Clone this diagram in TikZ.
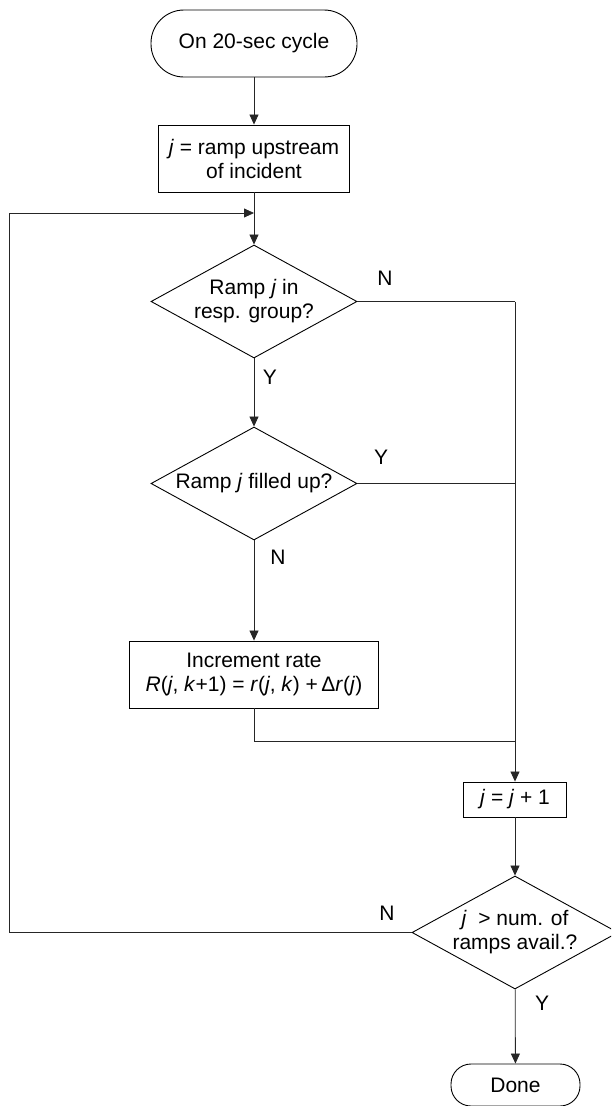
\documentclass[tikz,border=0pt]{standalone}
\usepackage{fontspec}
\setmainfont{Liberation Sans}
\usetikzlibrary{shapes.geometric,arrows.meta}
\begin{document}
\begin{tikzpicture}[x=1pt,y=-1pt,
  font=\fontsize{21}{24}\selectfont,
  term/.style={draw, rectangle, line width=0.9pt, inner sep=0pt, align=center},
  proc/.style={draw, rectangle, line width=0.9pt, inner sep=0pt, align=center},
  dec/.style={draw, diamond, line width=0.9pt, inner sep=-30pt, align=center, minimum width=206pt, minimum height=113pt},
  conn/.style={line width=0.8pt, draw=black!85},
  arr/.style={conn, -{Triangle[length=10pt,width=9pt]}},
  lbl/.style={inner sep=0pt}]
\clip (0,0) rectangle (611,1106);
\node[term, minimum width=206pt, minimum height=67pt, rounded corners=33pt] (start) at (254,43.5) {On 20-sec cycle};
\node[proc, minimum width=191pt, minimum height=67pt] (init) at (254,158.5) {\textit{j} = ramp upstream\\of incident};
\coordinate (join) at (254,213);
\node[dec] (d1) at (254,301.5) {Ramp \textit{j} in\\resp. group?};
\node[dec] (d2) at (254,483.5) {Ramp \textit{j} filled up?};
\node[proc, minimum width=249pt, minimum height=67pt] (inc) at (254,674.5) {Increment rate\\\textit{R}(\textit{j}, \textit{k}+1) = \textit{r}(\textit{j}, \textit{k}) +\,Δ\textit{r}(\textit{j})};
\coordinate (m1) at (254,741);
\coordinate (r1) at (515,301.5);
\coordinate (r2) at (515,483.5);
\coordinate (r3) at (515,741);
\node[proc, minimum width=103pt, minimum height=35pt] (jj) at (515,799.5) {\textit{j} = \textit{j} + 1};
\node[dec] (d3) at (515,932.5) {\textit{j} \ > num. of\\ramps avail.?};
\node[term, minimum width=129pt, minimum height=42pt, rounded corners=20pt] (done) at (515.5,1085) {Done};
\coordinate (l1) at (9,932.5);
\coordinate (l2) at (9,213);

\draw[arr] (start) -- (init);
\draw[conn] (init) -- (join);
\draw[arr] (join) -- (d1);
\draw[arr] (d1) -- (d2);
\draw[arr] (d2) -- (inc);
\draw[conn] (inc.south) -- (m1) -- (r3);
\draw[conn] (d1.east) -- (r1);
\draw[conn] (d2.east) -- (r2);
\draw[arr] (r1) -- (jj.north);
\draw[arr] (jj) -- (d3);
\draw[arr] (d3) -- (done);
\draw[arr] (d3.west) -- (l1) -- (l2) -- (join);

\node[lbl] (n1) at (385,278) {N};
\node[lbl] (y1) at (270,377) {Y};
\node[lbl] (y2) at (381,457) {Y};
\node[lbl] (n2) at (278,557) {N};
\node[lbl] (n3) at (387,913) {N};
\node[lbl] (y3) at (542,1003) {Y};
\end{tikzpicture}
\end{document}
